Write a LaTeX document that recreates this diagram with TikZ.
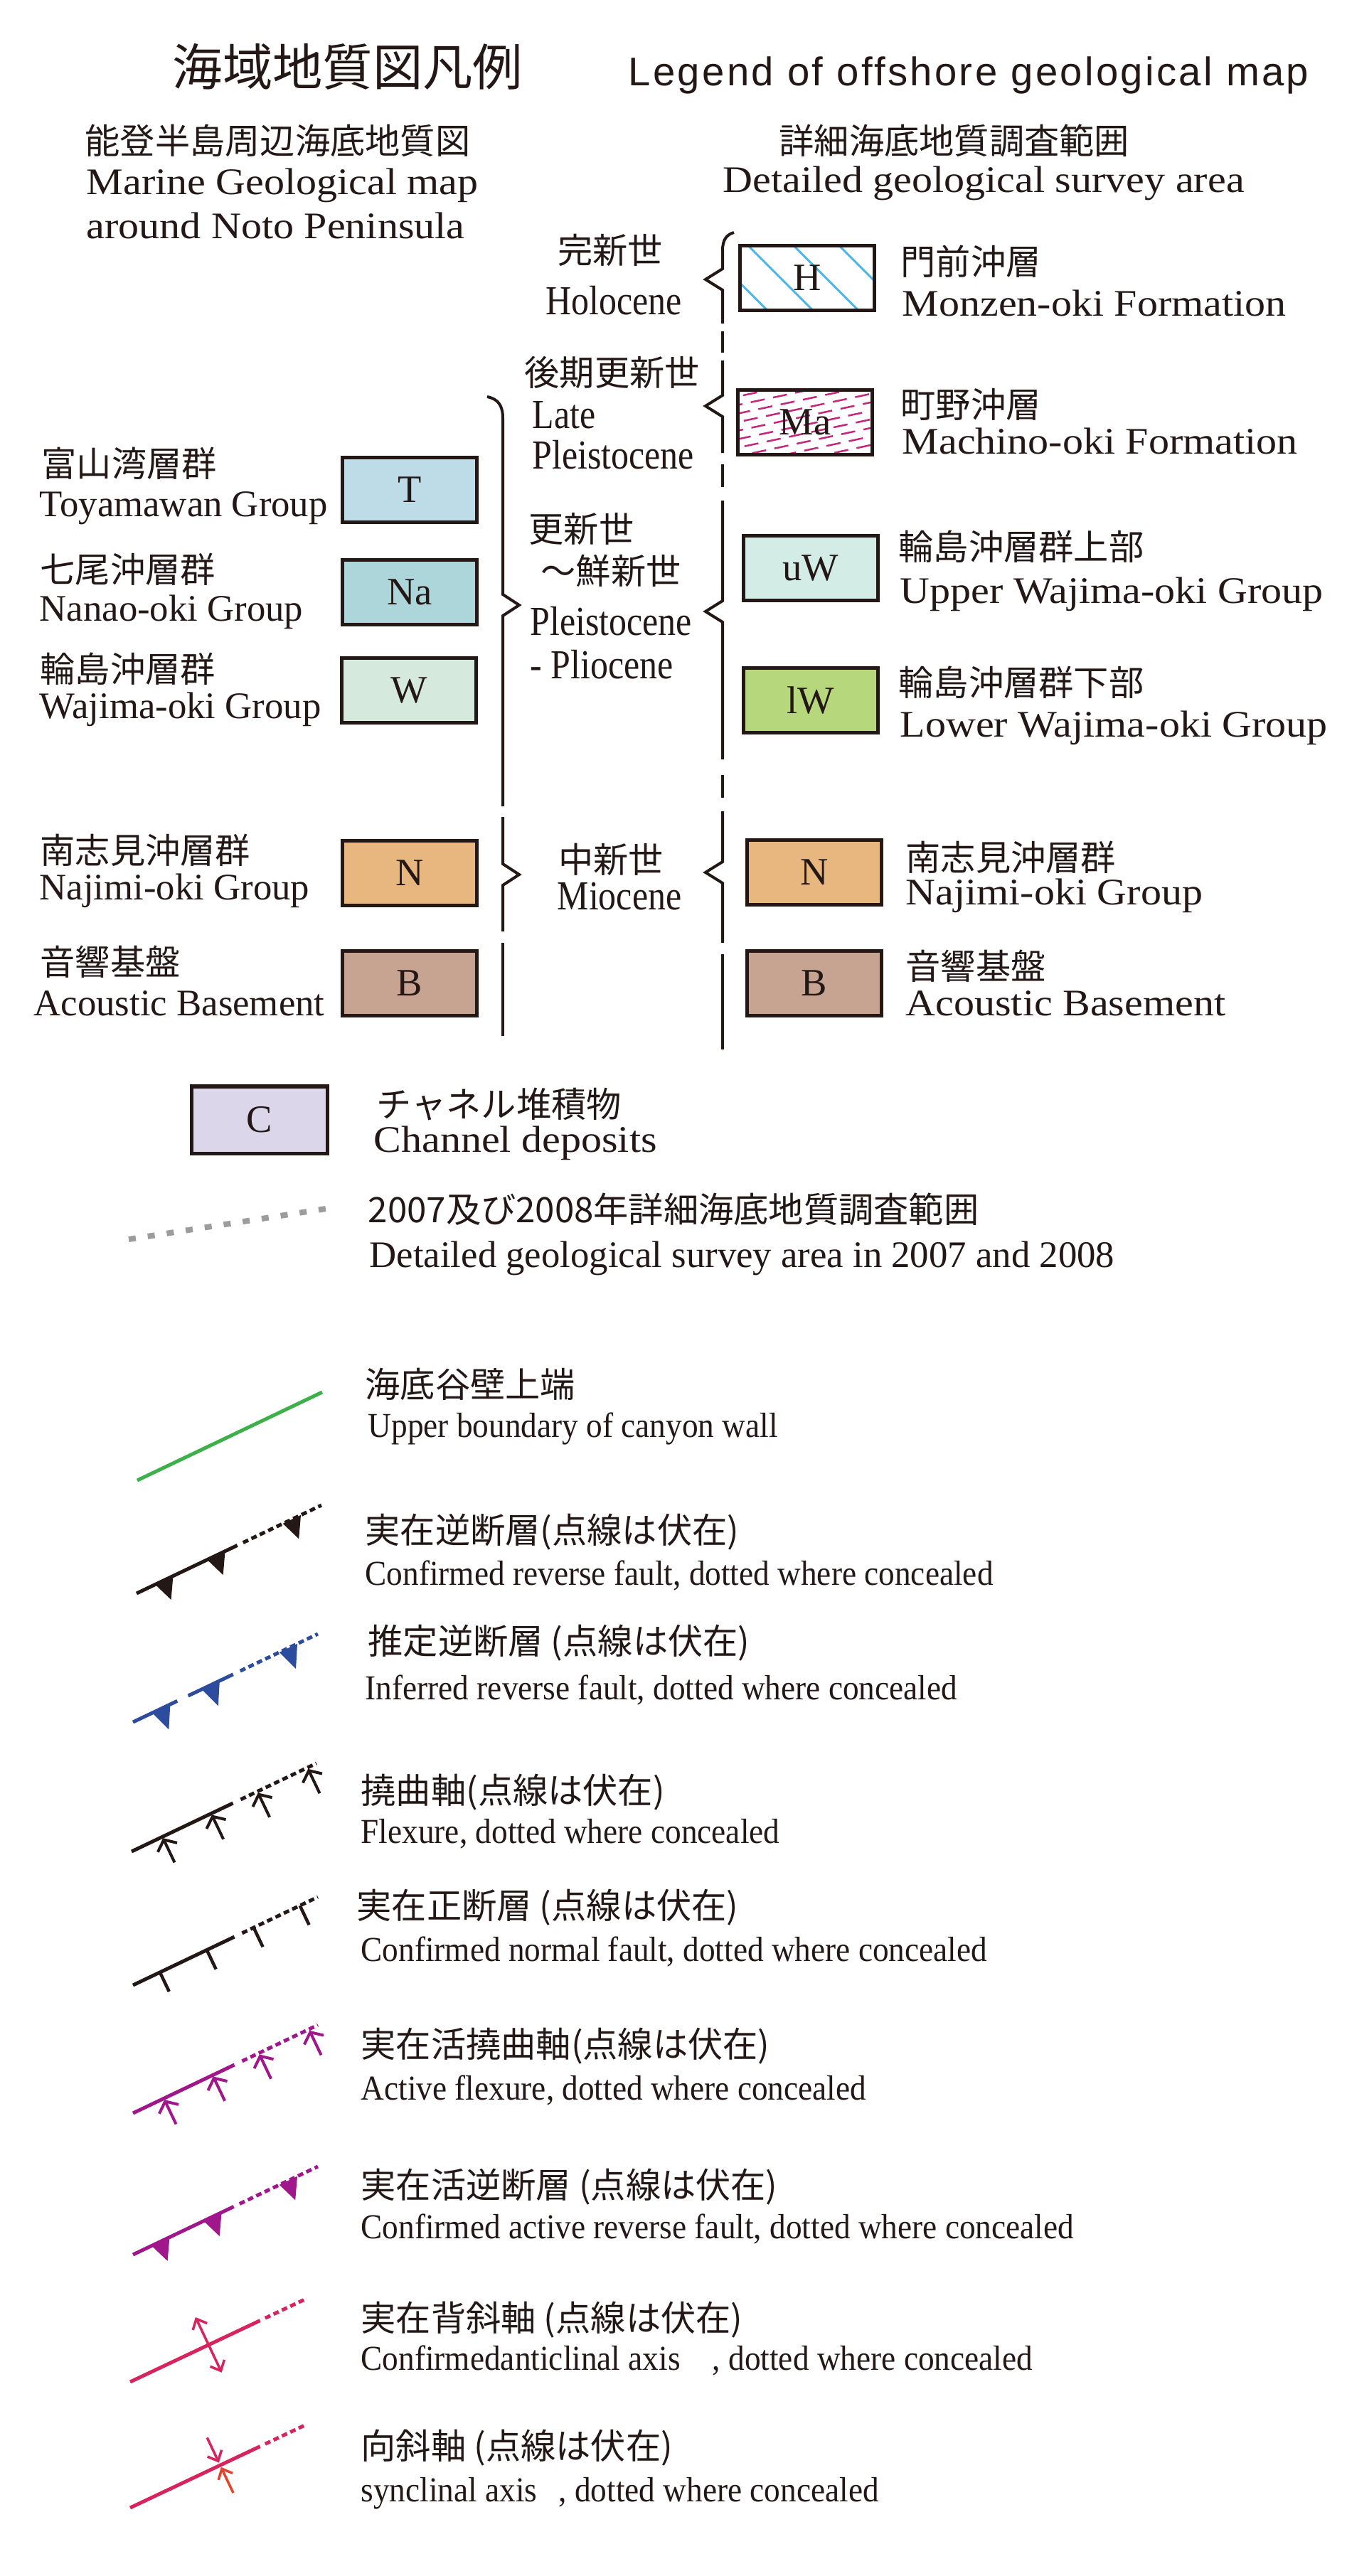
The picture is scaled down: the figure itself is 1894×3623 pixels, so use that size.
\documentclass[tikz,border=0pt]{standalone}
\usepackage{fontspec}
\setmainfont{Liberation Serif}
\newfontfamily\jpfont{Noto Sans CJK JP}
\newfontfamily\headsans[LetterSpace=6]{Liberation Sans}
\newfontfamily\widerm[FakeStretch=1.1]{Liberation Serif}
\newfontfamily\epochrm[FakeStretch=0.86]{Liberation Serif}
\newfontfamily\noterm[FakeStretch=0.92]{Liberation Serif}
\usepackage{tikz}
\usetikzlibrary{arrows.meta,positioning,calc}
\definecolor{ink}{HTML}{231815}
\definecolor{toyama}{HTML}{BEDCE8}
\definecolor{nanao}{HTML}{ACD6DA}
\definecolor{wajima}{HTML}{D5EADC}
\definecolor{najimi}{HTML}{E8B780}
\definecolor{basement}{HTML}{C7A392}
\definecolor{upperw}{HTML}{D4ECE6}
\definecolor{lowerw}{HTML}{B7D77D}
\definecolor{channel}{HTML}{DCD6EA}
\definecolor{monzen}{HTML}{4DB8E4}
\definecolor{machino}{HTML}{C4287C}
\definecolor{canyon}{HTML}{3DB04A}
\definecolor{inferred}{HTML}{2D4C9E}
\definecolor{active}{HTML}{A0178C}
\definecolor{fold}{HTML}{D7245E}
\definecolor{foldred}{HTML}{E0452E}
\definecolor{survey}{HTML}{9C9C9C}

\begin{document}
\begin{tikzpicture}[x=0.01cm, y=-0.01cm, color=ink,
    unitbox/.style={rectangle, draw=ink, line width=0.05cm, outer sep=0pt, inner sep=0pt,
                    minimum width=1.88cm, minimum height=0.91cm, font=\fontsize{15.5}{15.5}\selectfont},
    jp/.style={anchor=west, inner sep=0pt, font=\jpfont\fontsize{14}{14}\selectfont},
    enl/.style={anchor=base west, inner sep=0pt, font=\fontsize{15}{15}\selectfont},
    enr/.style={anchor=base west, inner sep=0pt, font=\widerm\fontsize{15}{15}\selectfont},
    epoch/.style={inner sep=0pt, font=\epochrm\fontsize{16.5}{16.5}\selectfont},
    legnote/.style={anchor=base west, inner sep=0pt, font=\noterm\fontsize{14}{14}\selectfont},
    agebrace/.style={line width=0.04cm},
    faultline/.style={line width=0.05cm},
    concealed/.style={line width=0.05cm, dash pattern=on 0.08cm off 0.05cm},
    flexarr/.style={line width=0.04cm, -{Straight Barb[length=0.12cm, width=0.3cm]}},
    foldarr/.style={line width=0.035cm, -{Straight Barb[length=0.12cm, width=0.22cm]}},
    hatchline/.style={monzen, line width=0.03cm},
    madash/.style={machino, line width=0.025cm, dash pattern=on 0.2cm off 0.12cm}
  ]
  \useasboundingbox (0,0) rectangle (1894,3623);

  % headings
  \node[font=\jpfont\fontsize{20}{20}\selectfont, inner sep=0pt] (ttl-jp) at (489,94) {海域地質図凡例};
  \node[anchor=base, inner sep=0pt, font=\headsans\fontsize{16}{16}\selectfont] (ttl-en) at (1362,120) {Legend of offshore geological map};
  \node[jp] (noto-jp) at (119,198) {能登半島周辺海底地質図};
  \node[enr] (noto-en1) at (121,273) {Marine Geological map};
  \node[enr] (noto-en2) at (121,335) {around Noto Peninsula};
  \node[jp] (det-jp) at (1095,198) {詳細海底地質調査範囲};
  \node[enr] (det-en) at (1016,270) {Detailed geological survey area};

  % epochs
  \node[jp, anchor=center] (holo-jp) at (858,352) {完新世};
  \node[epoch, anchor=base] (holo-en) at (863,442) {Holocene};
  \node[jp] (late-jp) at (737,524) {後期更新世};
  \node[epoch, anchor=base west] (late-en1) at (748,602) {Late};
  \node[epoch, anchor=base west] (late-en2) at (748,659) {Pleistocene};
  \node[jp] (plei-jp1) at (743,744) {更新世};
  \node[jp] (plei-jp2) at (760,803) {〜鮮新世};
  \node[epoch, anchor=base west] (plei-en1) at (745,893) {Pleistocene};
  \node[epoch, anchor=base west] (plei-en2) at (745,954) {- Pliocene};
  \node[jp, anchor=center] (mio-jp) at (859,1209) {中新世};
  \node[epoch, anchor=base] (mio-en) at (871,1279) {Miocene};

  % braces, left (whole area)
  \draw[agebrace] (685,558) .. controls (700,561) and (707,570) .. (707,588)
    -- (707,836) -- (730,851) -- (707,866) -- (707,1134);
  \draw[agebrace] (707,1149) -- (707,1215) -- (730,1230) -- (707,1245) -- (707,1310);
  \draw[agebrace] (707,1326) -- (707,1457);
  % braces, right (survey area)
  \draw[agebrace] (1032,327) .. controls (1021,330) and (1016,338) .. (1016,352)
    -- (1016,378) -- (992,393) -- (1016,408) -- (1016,455);
  \draw[agebrace] (1016,466) -- (1016,496);
  \draw[agebrace] (1016,507) -- (1016,556) -- (992,571) -- (1016,586) -- (1016,637);
  \draw[agebrace] (1016,653) -- (1016,685);
  \draw[agebrace] (1016,704) -- (1016,845) -- (992,860) -- (1016,875) -- (1016,1068);
  \draw[agebrace] (1016,1090) -- (1016,1122);
  \draw[agebrace] (1016,1141) -- (1016,1212) -- (992,1227) -- (1016,1242) -- (1016,1326);
  \draw[agebrace] (1016,1342) -- (1016,1476);

  % units, left column
  \node[unitbox, fill=toyama] (bT) at (576,689) {T};
  \node[unitbox, fill=nanao] (bNa) at (576,833) {Na};
  \node[unitbox, fill=wajima] (bW) at (575,971) {W};
  \node[unitbox, fill=najimi] (bN) at (576,1228) {N};
  \node[unitbox, fill=basement] (bB) at (576,1383) {B};
  \node[jp] (T-jp) at (58,652) {富山湾層群};
  \node[enl] (T-en) at (55,726) {Toyamawan Group};
  \node[jp] (Na-jp) at (56,801) {七尾沖層群};
  \node[enl] (Na-en) at (55,873) {Nanao-oki Group};
  \node[jp] (W-jp) at (56,941) {輪島沖層群};
  \node[enl] (W-en) at (55,1010) {Wajima-oki Group};
  \node[jp] (N-jp) at (56,1196) {南志見沖層群};
  \node[enl] (N-en) at (55,1265) {Najimi-oki Group};
  \node[jp] (B-jp) at (56,1353) {音響基盤};
  \node[enl] (B-en) at (47,1428) {Acoustic Basement};

  % units, right column
  \node[unitbox, fill=white, path picture={
      \foreach \k in {-1,...,2}
        \draw[hatchline] ([xshift=\k*0.64cm+0.11cm]path picture bounding box.north west) -- ++(1.3cm,-1.3cm);
    }] (bH) at (1135,391) {H};
  \draw[line width=0.05cm] (bH.south west) rectangle (bH.north east);
  \node[unitbox, fill=white, path picture={
      \foreach \r [evaluate=\r as \ph using {mod(\r*11,32)*0.01}] in {0,...,12}
        \draw[madash, dash phase=\ph cm] ([yshift=\r*0.12cm-0.5cm]path picture bounding box.south west) -- ++(12:2.3cm);
    }] (bMa) at (1132,594) {Ma};
  \draw[line width=0.05cm] (bMa.south west) rectangle (bMa.north east);
  \node[unitbox, fill=upperw] (buW) at (1140,799) {uW};
  \node[unitbox, fill=lowerw] (blW) at (1140,985) {lW};
  \node[unitbox, fill=najimi] (bN2) at (1145,1227) {N};
  \node[unitbox, fill=basement] (bB2) at (1145,1383) {B};
  \node[jp] (H-jp) at (1266,368) {門前沖層};
  \node[enr] (H-en) at (1268,444) {Monzen-oki Formation};
  \node[jp] (Ma-jp) at (1266,569) {町野沖層};
  \node[enr] (Ma-en) at (1268,638) {Machino-oki Formation};
  \node[jp] (uW-jp) at (1263,769) {輪島沖層群上部};
  \node[enr] (uW-en) at (1265,848) {Upper Wajima-oki Group};
  \node[jp] (lW-jp) at (1263,960) {輪島沖層群下部};
  \node[enr] (lW-en) at (1265,1036) {Lower Wajima-oki Group};
  \node[jp] (N2-jp) at (1273,1206) {南志見沖層群};
  \node[enr] (N2-en) at (1273,1272) {Najimi-oki Group};
  \node[jp] (B2-jp) at (1273,1359) {音響基盤};
  \node[enr] (B2-en) at (1273,1428) {Acoustic Basement};

  % channel deposits and survey area
  \node[unitbox, fill=channel, minimum width=1.9cm, minimum height=0.94cm] (bC) at (365,1575) {C};
  \node[jp] (C-jp) at (529,1553) {チャネル堆積物};
  \node[enr] (C-en) at (525,1620) {Channel deposits};
  \coordinate (sv-a) at (181,1743);
  \coordinate (sv-b) at (471,1698);
  \draw[survey, line width=0.08cm, dash pattern=on 0.1cm off 0.17cm] (sv-a) -- (sv-b);
  \node[jp] (sv-jp) at (517,1701) {2007及び2008年詳細海底地質調査範囲};
  \node[enl] (sv-en) at (519,1782) {Detailed geological survey area in 2007 and 2008};

  % line symbols
  \coordinate (cw-a) at (193,2082);
  \coordinate (cw-b) at (453,1958);
  \draw[canyon, faultline] (cw-a) -- (cw-b);
  \node[jp] (cw-jp) at (513,1947) {海底谷壁上端};
  \node[legnote] (cw-en) at (517,2021) {Upper boundary of canyon wall};

  \coordinate (rf) at (192,2241);
  \begin{scope}[shift={(rf)}, rotate=25.5]
    \draw[faultline] (0,0) -- (157,0);
    \draw[concealed] (166,0) -- (288,0);
    \foreach \s in {43,124,242}
      \fill (\s-14,0) -- (\s+14,0) -- (\s-3,29) -- cycle;
  \end{scope}
  \node[jp] (rf-jp) at (513,2155) {実在逆断層(点線は伏在)};
  \node[legnote] (rf-en) at (513,2229) {Confirmed reverse fault, dotted where concealed};

  \coordinate (ir) at (187,2422);
  \begin{scope}[shift={(ir)}, rotate=25.5, color=inferred]
    \draw[faultline] (0,0) -- (69,0) (86,0) -- (156,0);
    \draw[concealed] (167,0) -- (288,0);
    \foreach \s in {44,121,242}
      \fill (\s-14,0) -- (\s+14,0) -- (\s-3,31) -- cycle;
  \end{scope}
  \node[jp] (ir-jp) at (517,2311) {推定逆断層 (点線は伏在)};
  \node[legnote] (ir-en) at (513,2390) {Inferred reverse fault, dotted where concealed};

  \coordinate (fx) at (185,2604);
  \begin{scope}[shift={(fx)}, rotate=25.5]
    \draw[faultline] (0,0) -- (158,0);
    \draw[concealed] (170,0) -- (288,0);
    \foreach \s in {48,124,196,274}
      \draw[flexarr] (\s,40) -- (\s,2);
  \end{scope}
  \node[jp] (fx-jp) at (507,2521) {撓曲軸(点線は伏在)};
  \node[legnote] (fx-en) at (507,2592) {Flexure, dotted where concealed};

  \coordinate (nf) at (187,2792);
  \begin{scope}[shift={(nf)}, rotate=25.5]
    \draw[faultline] (0,0) -- (158,0);
    \draw[concealed] (170,0) -- (288,0);
    \foreach \s in {42,115,188,260}
      \draw[line width=0.045cm] (\s,0) -- (\s,30);
  \end{scope}
  \node[jp] (nf-jp) at (501,2683) {実在正断層 (点線は伏在)};
  \node[legnote] (nf-en) at (507,2758) {Confirmed normal fault, dotted where concealed};

  \coordinate (af) at (187,2972);
  \begin{scope}[shift={(af)}, rotate=25.5, color=active]
    \draw[faultline] (0,0) -- (158,0);
    \draw[concealed] (170,0) -- (288,0);
    \foreach \s in {48,124,196,274}
      \draw[flexarr] (\s,40) -- (\s,2);
  \end{scope}
  \node[jp] (af-jp) at (507,2878) {実在活撓曲軸(点線は伏在)};
  \node[legnote] (af-en) at (507,2953) {Active flexure, dotted where concealed};

  \coordinate (ar) at (187,3171);
  \begin{scope}[shift={(ar)}, rotate=25.5, color=active]
    \draw[faultline] (0,0) -- (157,0);
    \draw[concealed] (166,0) -- (288,0);
    \foreach \s in {43,124,242}
      \fill (\s-14,0) -- (\s+14,0) -- (\s-3,29) -- cycle;
  \end{scope}
  \node[jp] (ar-jp) at (507,3076) {実在活逆断層 (点線は伏在)};
  \node[legnote] (ar-en) at (507,3148) {Confirmed active reverse fault, dotted where concealed};

  \coordinate (ac) at (183,3350);
  \begin{scope}[shift={(ac)}, rotate=25.3, color=fold]
    \draw[faultline] (0,0) -- (202,0);
    \draw[concealed] (210,0) -- (273,0);
    \draw[foldarr, {Straight Barb[length=0.12cm, width=0.22cm]}-{Straight Barb[length=0.12cm, width=0.22cm]}] (122,-43) -- (122,43);
  \end{scope}
  \node[jp] (ac-jp) at (507,3263) {実在背斜軸 (点線は伏在)};
  \node[legnote] (ac-en) at (507,3333) {Confirmedanticlinal axis\hspace{0.45cm}, dotted where concealed};

  \coordinate (sc) at (183,3527);
  \begin{scope}[shift={(sc)}, rotate=25.3, color=fold]
    \draw[faultline] (0,0) -- (202,0);
    \draw[concealed] (210,0) -- (273,0);
    \draw[foldarr] (140,-43) -- (140,-4);
    \draw[foldarr, foldred] (140,43) -- (140,3);
  \end{scope}
  \node[jp] (sc-jp) at (507,3443) {向斜軸 (点線は伏在)};
  \node[legnote] (sc-en) at (507,3518) {synclinal axis\hspace{0.3cm}, dotted where concealed};
\end{tikzpicture}
\end{document}
